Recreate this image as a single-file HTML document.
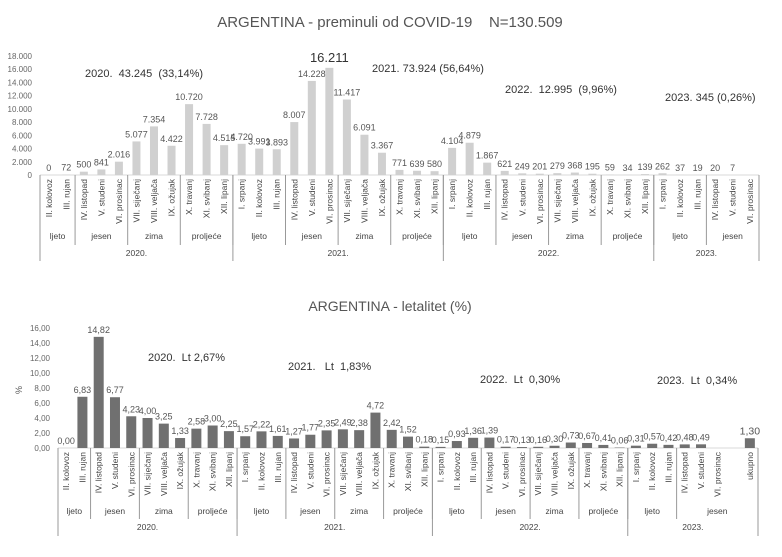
<!DOCTYPE html>
<html><head><meta charset="utf-8"><style>
body{margin:0;background:#fff;}
svg{display:block;font-family:"Liberation Sans",sans-serif;}
</style></head><body>
<svg id="c" width="782" height="557" viewBox="0 0 782 557">
<text x="390" y="27" text-anchor="middle" font-size="15" fill="#555">ARGENTINA - preminuli od COVID-19 &#160;&#160;&#160;N=130.509</text>
<text x="85" y="77" font-size="11" fill="#333">2020. &#160;43.245 &#160;(33,14%)</text>
<text x="372" y="72" font-size="11" fill="#333">2021. 73.924 (56,64%)</text>
<text x="505" y="93" font-size="11" fill="#333">2022. &#160;12.995 &#160;(9,96%)</text>
<text x="665" y="101" font-size="11" fill="#333">2023. 345 (0,26%)</text>
<text x="390" y="311" text-anchor="middle" font-size="14" fill="#555">ARGENTINA - letalitet (%)</text>
<text x="148" y="361" font-size="11" fill="#333">2020. &#160;Lt 2,67%</text>
<text x="288" y="370" font-size="11" fill="#333">2021. &#160;&#160;Lt &#160;1,83%</text>
<text x="480" y="383" font-size="11" fill="#333">2022. &#160;Lt &#160;0,30%</text>
<text x="657" y="384" font-size="11" fill="#333">2023. &#160;Lt &#160;0,34%</text>
<text transform="translate(22,390) rotate(-90)" text-anchor="middle" font-size="9" fill="#555">%</text>
</svg>
<script>
const cats = ["II. kolovoz","III. rujan","IV. listopad","V. studeni","VI. prosinac","VII. siječanj","VIII. veljača","IX. ožujak","X. travanj","XI. svibanj","XII. lipanj",
"I. srpanj","II. kolovoz","III. rujan","IV. listopad","V. studeni","VI. prosinac","VII. siječanj","VIII. veljača","IX. ožujak","X. travanj","XI. svibanj","XII. lipanj",
"I. srpanj","II. kolovoz","III. rujan","IV. listopad","V. studeni","VI. prosinac","VII. siječanj","VIII. veljača","IX. ožujak","X. travanj","XI. svibanj","XII. lipanj",
"I. srpanj","II. kolovoz","III. rujan","IV. listopad","V. studeni","VI. prosinac"];
const deaths = [0,72,500,841,2016,5077,7354,4422,10720,7728,4515,
4720,3991,3893,8007,14228,16211,11417,6091,3367,771,639,580,
4104,4879,1867,621,249,201,279,368,195,59,34,139,
262,37,19,20,7,null];
const deathTicks = [0,2000,4000,6000,8000,10000,12000,14000,16000,18000];
const lethCats = cats.concat(["","ukupno"]);
const lethality = [0.00,6.83,14.82,6.77,4.23,4.00,3.25,1.33,2.58,3.00,2.25,
1.57,2.22,1.61,1.27,1.77,2.35,2.49,2.38,4.72,2.42,1.52,0.18,
0.15,0.93,1.36,1.39,0.17,0.13,0.16,0.30,0.73,0.67,0.41,0.06,
0.31,0.57,0.42,0.48,0.49,null,null,1.30];
const lethTicks = [0,2,4,6,8,10,12,14,16];
const seasons = [["ljeto",2],["jesen",3],["zima",3],["proljeće",3],["ljeto",3],["jesen",3],["zima",3],["proljeće",3],["ljeto",3],["jesen",3],["zima",3],["proljeće",3],["ljeto",3],["jesen",3]];
const years = [["2020.",11],["2021.",12],["2022.",12],["2023.",6]];

const svg = document.getElementById('c');
const NS = 'http://www.w3.org/2000/svg';
function mk(tag, attrs, txt){const e=document.createElementNS(NS,tag);for(const k in attrs)e.setAttribute(k,attrs[k]);if(txt!==undefined)e.textContent=txt;svg.appendChild(e);return e;}
function fmtThousands(v){return v.toLocaleString('de-DE');}
function fmtDec(v){return v.toFixed(2).replace('.',',');}

function drawChart(o){
  const n=o.cats.length, bw=(o.x1-o.x0)/n;
  const xc=i=>o.x0+bw*(i+0.5);
  const yv=v=>o.y0-(v/o.max)*(o.y0-o.yTop);
  o.ticks.forEach(t=>{
    const e=mk('text',{x:o.x0-8,y:yv(t)+3,'text-anchor':'end','font-size':8,fill:'#666'},o.tickFmt(t));
    
    
  });
  const ax=mk('line',{x1:o.x0,y1:o.y0,x2:o.x1,y2:o.y0,stroke:'#d9d9d9','stroke-width':1});
  
  
  const vmax=Math.max(...o.vals.filter(v=>v!==null));
  o.vals.forEach((v,i)=>{
    if(v===null)return;
    const h=o.y0-yv(v);
    const r=mk('rect',{x:xc(i)-o.barW/2,y:yv(v),width:o.barW,height:Math.max(h,0),fill:o.color});
    
    
    const big=o.bigMax&&v===vmax;
    const t=mk('text',{x:xc(i),y:yv(v)-(big?6:4),'text-anchor':'middle','font-size':big?13:(o.bigLast&&i===o.vals.length-1?10.5:9),fill:big?'#333':'#555'},o.valFmt(v));
    
    
  });
  o.cats.forEach((c,i)=>{
    const t=mk('text',{transform:`translate(${xc(i)+3},${o.y0+4}) rotate(-90)`,'text-anchor':'end','font-size':8.5,fill:'#444'},c);
    
    
  });
  let idx=0;
  o.seasons.forEach(([s,k],j)=>{
    const a=o.x0+bw*idx, b=o.x0+bw*(idx+k);
    const t=mk('text',{x:(a+b)/2,y:o.seasonY,'text-anchor':'middle','font-size':8.5,fill:'#444'},s);
    
    
    if(j>0){const l=mk('line',{x1:a,y1:o.y0,x2:a,y2:o.seasonLineEnd,stroke:'#999','stroke-width':1});
      
      }
    idx+=k;
  });
  idx=0;
  o.years.forEach(([y,k])=>{
    const a=o.x0+bw*idx, b=o.x0+bw*(idx+k);
    const t=mk('text',{x:(a+b)/2,y:o.yearY,'text-anchor':'middle','font-size':8.5,fill:'#444'},y);
    
    
    const l=mk('line',{x1:a,y1:o.y0,x2:a,y2:o.yearLineEnd,stroke:'#999','stroke-width':1});
    
    
    idx+=k;
  });
  const r=mk('line',{x1:o.x1,y1:o.y0,x2:o.x1,y2:o.yearLineEnd,stroke:'#999','stroke-width':1});
  
  
}

drawChart({cats:cats,vals:deaths,ticks:deathTicks,max:18000,x0:40,x1:759,y0:175,yTop:56,barW:8,color:'#d0d0d0',
  tickFmt:t=>t===0?'0':fmtThousands(t),valFmt:v=>v===0?'0':fmtThousands(v),bigMax:true,
  seasons:seasons,years:years,seasonY:239,yearY:256,seasonLineEnd:245,yearLineEnd:261});

const lethYears=[["2020.",11],["2021.",12],["2022.",12],["2023.",8]];
const lethSeasons=seasons.slice(0,13).concat([["jesen",5]]);
drawChart({cats:lethCats,vals:lethality,ticks:lethTicks,max:16,x0:58,x1:758,y0:448,yTop:328,barW:10,color:'#707070',
  tickFmt:t=>fmtDec(t),valFmt:v=>fmtDec(v),bigLast:true,
  seasons:lethSeasons,years:lethYears,seasonY:514,yearY:530,seasonLineEnd:519,yearLineEnd:536});
</script>
</body></html>
